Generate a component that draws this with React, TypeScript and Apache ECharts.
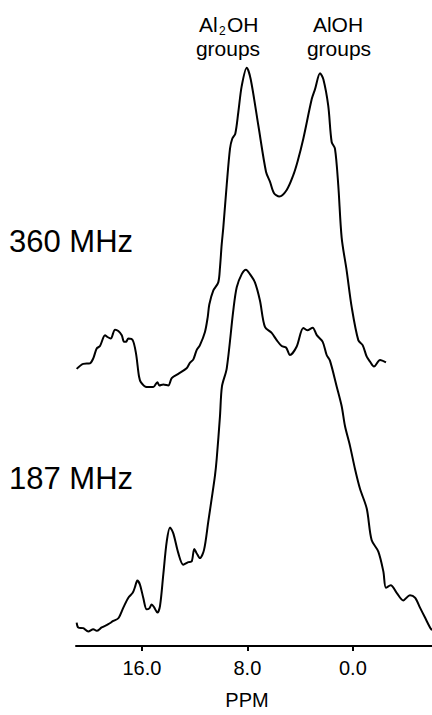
import React, { useEffect, useRef } from "react";
import * as echarts from "echarts";

// Chemical shift (ppm) and intensity (a.u.) for the 360 MHz spectrum
const ppm360 = [20.95, 20.45, 19.94, 19.69, 19.43, 19.18, 18.8, 18.63, 18.37, 18.04, 17.79, 17.53, 17.36, 17.21, 17.03, 16.7, 16.45, 16.22, 16.07, 15.64, 15.14, 14.83, 14.68, 14.38, 14.0, 13.74, 13.24, 12.61, 12.35, 12.1, 11.85, 11.6, 11.22, 11.01, 10.89, 10.59, 10.21, 10.08, 9.95, 9.83, 9.57, 9.32, 9.15, 8.92, 8.69, 8.43, 8.05, 7.75, 7.17, 6.59, 6.29, 5.98, 5.58, 5.02, 4.52, 4.19, 3.76, 3.12, 2.87, 2.49, 2.24, 1.87, 1.61, 1.36, 1.11, 0.85, 0.47, 0.09, -0.41, -0.74, -1.05, -1.3, -1.6, -2.06, -2.51];
const int360 = [279.7, 284.7, 285.3, 290.3, 300.3, 302.7, 313.7, 312, 310.3, 319.3, 318, 313.7, 307, 307, 310.3, 308.7, 295.3, 272, 266, 261.3, 261.3, 266.3, 263, 264, 263, 270.3, 274.7, 280.3, 286, 289.3, 298.7, 303.7, 317, 332, 344.7, 358.7, 367, 382, 405.3, 422, 465.3, 502, 512, 517, 538.7, 565.3, 583.7, 572, 525.3, 478.7, 468.7, 457, 453.7, 460.3, 475.3, 489.3, 512, 552, 562, 578, 572, 545.3, 508.7, 502, 465.3, 412, 378.7, 342, 308.7, 303.7, 292, 287, 282, 288.7, 286.3];

// Chemical shift (ppm) and intensity (a.u.) for the 187 MHz spectrum
const ppm187 = [20.95, 20.83, 20.45, 20.07, 19.69, 19.43, 19.05, 18.55, 18.17, 17.79, 17.41, 17.03, 16.7, 16.53, 16.35, 16.15, 15.9, 15.64, 15.44, 15.26, 15.06, 14.83, 14.63, 14.38, 14.12, 13.87, 13.62, 13.24, 12.86, 12.48, 12.23, 12.03, 11.85, 11.6, 11.29, 10.97, 10.71, 10.46, 10.33, 10.08, 9.93, 9.57, 9.07, 8.81, 8.43, 8.11, 7.81, 7.43, 7.05, 6.67, 6.16, 5.78, 5.4, 5.07, 4.77, 4.27, 3.76, 3.46, 3.05, 2.74, 2.29, 1.99, 1.74, 1.23, 0.85, 0.6, 0.22, -0.16, -0.54, -1.05, -1.42, -1.93, -2.31, -2.51, -2.87, -3.32, -3.82, -4.33, -4.71, -5.09, -5.47, -5.85, -6.0];
const int187 = [23.7, 18.7, 18, 14.7, 17, 15.3, 18.7, 22, 25.3, 28, 38.7, 48.7, 53.7, 59.3, 66, 62, 48.7, 37, 38, 42, 38.7, 33.7, 40.3, 72, 105.3, 119.7, 113.7, 93.7, 82, 84.7, 85.3, 98, 93.7, 88.7, 97, 125.3, 148.7, 172, 188.7, 232, 262, 280, 338.7, 362, 375.3, 379.7, 375.3, 367, 348.7, 322, 316, 308.7, 302.7, 301.3, 293.7, 302, 321, 318.7, 321.3, 313.7, 307, 293.7, 288, 262, 242, 222, 202, 178.7, 158.7, 138.7, 107, 95.3, 75.3, 58.7, 61.3, 53.7, 46, 51.3, 48.7, 38.7, 28.7, 18.7, 16];

const tickValues = [16, 8, 0];
const axisName = "PPM";
const spectrumLabels = ["360 MHz", "187 MHz"];

export default function App() {
  const ref = useRef<HTMLDivElement>(null);
  useEffect(() => {
    if (!ref.current) return;
    const chart = echarts.init(ref.current, null, { renderer: "svg" });
    const font = "Liberation Sans, Arial, Helvetica, sans-serif";
    const lineStyle = { color: "#000", width: 2 };
    chart.setOption({
      animation: false,
      backgroundColor: "#fff",
      grid: { left: 76, right: 0, top: 0, bottom: 63 },
      xAxis: {
        type: "value",
        min: -6,
        max: 21,
        inverse: true,
        splitLine: { show: false },
        axisLine: { show: true, onZero: false, lineStyle: { color: "#000", width: 2 } },
        axisTick: { show: true, length: 5, customValues: tickValues, lineStyle: { color: "#000", width: 2 } },
        axisLabel: {
          customValues: tickValues,
          formatter: (v: number) => v.toFixed(1),
          fontSize: 20,
          color: "#000",
          fontFamily: font,
          margin: 12,
        },
        name: axisName,
        nameLocation: "middle",
        nameGap: 44,
        nameTextStyle: { fontSize: 20, color: "#000", fontFamily: font, padding: [0, 14, 0, 0] },
      },
      yAxis: { type: "value", min: 0, max: 652, show: false },
      series: [
        {
          type: "line",
          name: spectrumLabels[0],
          data: ppm360.map((p, i) => [p, int360[i]]),
          showSymbol: false,
          symbol: "none",
          smooth: 0.3,
          lineStyle,
        },
        {
          type: "line",
          name: spectrumLabels[1],
          data: ppm187.map((p, i) => [p, int187[i]]),
          showSymbol: false,
          symbol: "none",
          smooth: 0.3,
          lineStyle,
        },
      ],
      graphic: [
        { type: "text", left: 9, top: 226, style: { text: spectrumLabels[0], fontSize: 31, fill: "#000", fontFamily: font } },
        { type: "text", left: 9, top: 463, style: { text: spectrumLabels[1], fontSize: 31, fill: "#000", fontFamily: font } },
        { type: "text", x: 199, y: 24, style: { text: "Al", fontSize: 21, lineHeight: 20, fill: "#000", fontFamily: font, verticalAlign: "middle", align: "left" } },
        { type: "text", x: 219, y: 31, style: { text: "2", fontSize: 12, lineHeight: 11, fill: "#000", fontFamily: font, verticalAlign: "middle", align: "left" } },
        { type: "text", x: 227, y: 24, style: { text: "OH", fontSize: 21, lineHeight: 20, fill: "#000", fontFamily: font, verticalAlign: "middle", align: "left" } },
        { type: "text", x: 228, y: 48, style: { text: "groups", fontSize: 21, lineHeight: 20, fill: "#000", fontFamily: font, verticalAlign: "middle", align: "center" } },
        { type: "text", x: 338, y: 24, style: { text: "AlOH", fontSize: 21, lineHeight: 20, fill: "#000", fontFamily: font, verticalAlign: "middle", align: "center" } },
        { type: "text", x: 339, y: 48, style: { text: "groups", fontSize: 21, lineHeight: 20, fill: "#000", fontFamily: font, verticalAlign: "middle", align: "center" } },
      ],
    });
    return () => chart.dispose();
  }, []);
  return <div ref={ref} style={{ position: "fixed", left: 0, top: 0, width: 432, height: 715 }} />;
}
